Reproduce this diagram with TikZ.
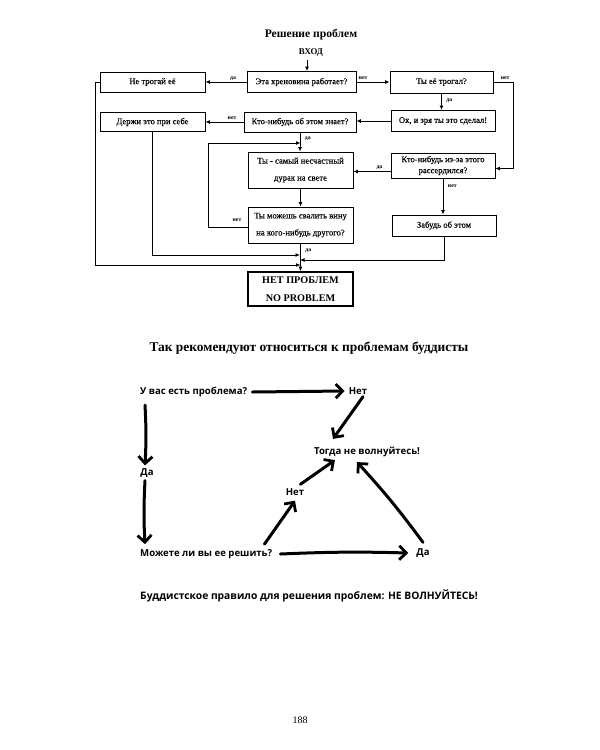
\documentclass[tikz,border=0pt]{standalone}
\usepackage{fontspec}
\setmainfont{Liberation Serif}
\newfontfamily\handfont{Open Sans}
\newfontfamily\boxfont[FakeBold=0.3]{Liberation Serif}
\usetikzlibrary{arrows.meta}
\begin{document}
\begin{tikzpicture}[x=1pt,y=-1pt,
  box/.style={draw, line width=0.9pt, minimum width=104pt, minimum height=20pt, inner sep=1pt, align=center, font=\boxfont\fontsize{8.6}{17}\selectfont},
  lbl/.style={font=\bfseries\fontsize{5.8}{6}\selectfont, inner sep=1.5pt},
  flow/.style={line width=0.9pt, -{Latex[length=4.5pt,width=4pt]}},
  hand/.style={line width=3pt, line cap=round, -{Straight Barb[length=7pt,width=14pt,line width=2.8pt]}},
  htxt/.style={font=\handfont\bfseries\fontsize{9.6}{11}\selectfont, inner sep=0pt}
]
\path[use as bounding box, fill=white] (0,0) rectangle (600,750);

% ---------- top flowchart ----------
\node[font=\bfseries\fontsize{11.6}{13}\selectfont] (title) at (311,35) {Решение проблем};
\node[font=\bfseries\fontsize{8.8}{9}\selectfont] (entry) at (311,53) {ВХОД};

\node[box, minimum width=105pt] (b1) at (152.5,82) {Не трогай её};
\node[box, minimum width=109pt, minimum height=21pt] (b2) at (301.5,82) {Эта хреновина работает?};
\node[box, minimum width=103pt, minimum height=22pt] (b3) at (441.5,82) {Ты её трогал?};
\node[box, minimum width=105pt, minimum height=19pt] (b4) at (152.5,122) {Держи это при себе};
\node[box, minimum width=112pt] (b5) at (300,122) {Кто-нибудь об этом знает?};
\node[box, minimum width=104pt, minimum height=21pt] (b6) at (443,121) {Ох, и зря ты это сделал!};
\node[box, minimum width=105pt, minimum height=36pt] (b7) at (300.5,170) {Ты - самый несчастный\\дурак на свете};
\node[box, minimum width=104pt, minimum height=25pt, font=\boxfont\fontsize{8.6}{11}\selectfont] (b8) at (443,165.5) {Кто-нибудь из-за этого\\рассердился?};
\node[box, minimum width=105pt, minimum height=36pt] (b9) at (300.5,225) {Ты можешь свалить вину\\на кого-нибудь другого?};
\node[box, minimum width=104pt, minimum height=21pt] (b10) at (444,225.5) {Забудь об этом};
\node[box, line width=1.7pt, minimum width=105pt, minimum height=34pt, font=\bfseries\fontsize{10.2}{18}\selectfont] (b11) at (300.5,289) {НЕТ ПРОБЛЕМ\\NO PROBLEM};

\coordinate (rr) at (513,82);
\coordinate (loop) at (208,143);
\coordinate (lft) at (95,265);
\coordinate (m1) at (300,255);
\coordinate (m2) at (300,260);
\coordinate (ein) at (307,60);

\draw[flow] (ein) -- (ein |- b2.north);
\draw[flow] (b2.west) -- (b1.east) node[lbl, above, pos=0.33] {да};
\draw[flow] (b2.east) -- (b3.west) node[lbl, above, pos=0.2] {нет};
\draw[flow] (b3.south) -- (b3.south |- b6.north) node[lbl, right, pos=0.45, xshift=3pt] {да};
\draw[flow] (b3.east) -- node[lbl, above, pos=0.6] {нет} (rr) |- ([yshift=-3pt]b8.east);
\draw[flow] (b6.west) -- (b6.west -| b5.east);
\draw[flow] (b5.west) -- (b5.west -| b4.east) node[lbl, above, pos=0.3] {нет};
\draw[flow] (b5.south) -- (b5.south |- b7.north) node[lbl, right, pos=0.3, xshift=3pt] {да};
\draw[flow] ([yshift=-6pt]b8.west) -- ([yshift=-6pt]b8.west -| b7.east) node[lbl, above, pos=0.3] {да};
\draw[flow] (b8.south) -- (b8.south |- b10.north) node[lbl, right, pos=0.2, xshift=3pt] {нет};
\draw[flow] (b7.south) -- (b9.north);
\draw[flow] ([yshift=-2pt]b9.west) -| (loop) -- (loop -| b7.north);
\node[lbl] (nlbl) at (237,220) {нет};
\draw[flow] (b9.south) -- (b11.north) node[lbl, right, pos=0.25, xshift=3pt] {да};
\draw[flow] (b4.south) |- (m1);
\draw[flow] (b10.south) |- (m2);
\draw[flow] (b1.west) -| (lft) -- (lft -| b11.north);

% ---------- buddhist part ----------
\node[font=\bfseries\fontsize{13.4}{15}\selectfont] (title2) at (309,348) {Так рекомендуют относиться к проблемам буддисты};

\node[htxt, anchor=west] (q1) at (140,392) {У вас есть проблема?};
\node[htxt] (no1) at (358,391) {Нет};
\node[htxt] (calm) at (367,452) {Тогда не волнуйтесь!};
\node[htxt] (yes1) at (147,473) {Да};
\node[htxt, anchor=west] (q2) at (140,554) {Можете ли вы ее решить?};
\node[htxt] (no2) at (295,492) {Нет};
\node[htxt] (yes2) at (423,553) {Да};
\node[htxt, anchor=west, font=\handfont\bfseries\fontsize{10.3}{12}\selectfont] (rule) at (140,596) {Буддистское правило для решения проблем: НЕ ВОЛНУЙТЕСЬ!};
\node[font=\fontsize{10}{12}\selectfont] (page) at (300,720) {188};

\draw[hand] ([xshift=5pt]q1.east) -- ([xshift=-4pt]no1.west);
\draw[hand] ([xshift=5pt,yshift=-2pt]no1.south) -- ([xshift=-34pt,yshift=8pt]calm.north);
\draw[hand] ([xshift=5pt,yshift=-8pt]q1.south west) to[bend left=3] ([xshift=-2pt,yshift=3pt]yes1.north);
\draw[hand] ([xshift=-2pt,yshift=-3pt]yes1.south) to[bend right=3] ([xshift=-2pt,yshift=5pt]yes1.south |- q2.north);
\draw[hand] ([xshift=8pt]q2.east) to[bend left=2] ([xshift=-8pt]yes2.west);
\draw[hand] ([xshift=-8pt,yshift=5pt]q2.north east) -- ([yshift=-5pt]no2.south);
\draw[hand] ([xshift=-4pt,yshift=4pt]no2.north east) -- ([xshift=21pt,yshift=-3pt]calm.south west);
\draw[hand] ([yshift=6pt]yes2.north) to[bend right=3] ([xshift=-10pt,yshift=-5pt]calm.south);
\end{tikzpicture}
\end{document}
